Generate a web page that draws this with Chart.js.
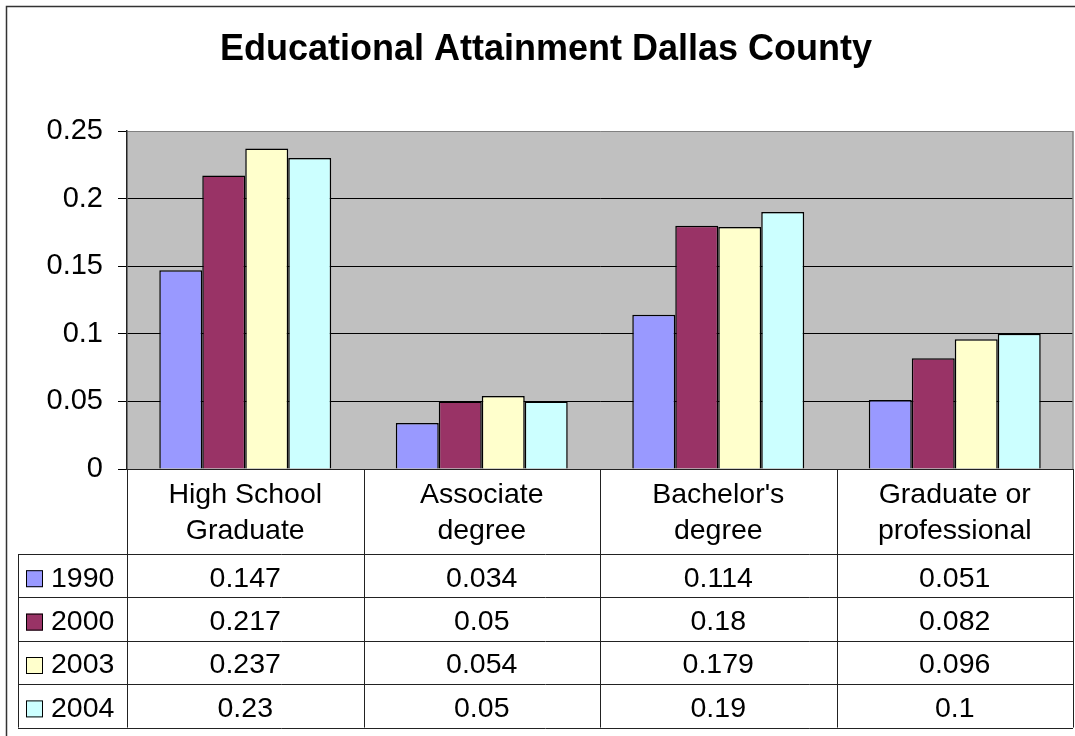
<!DOCTYPE html>
<html>
<head>
<meta charset="utf-8">
<script src="https://cdn.jsdelivr.net/npm/chart.js@4/dist/chart.umd.min.js"></script>
<style>
  html, body { margin: 0; padding: 0; background: #fff; }
  #wrap { width: 1075px; height: 736px; position: relative; }
</style>
</head>
<body>
<div id="wrap"><canvas id="chart"></canvas></div>
<script>
var categories = [["High School", "Graduate"], ["Associate", "degree"], ["Bachelor's", "degree"], ["Graduate or", "professional"]];
var years = ["1990", "2000", "2003", "2004"];
var v1990 = [0.147, 0.034, 0.114, 0.051];
var v2000 = [0.217, 0.05, 0.18, 0.082];
var v2003 = [0.237, 0.054, 0.179, 0.096];
var v2004 = [0.23, 0.05, 0.19, 0.1];
var yTicks = [0, 0.05, 0.1, 0.15, 0.2, 0.25];

var colors = ["#9999FF", "#993366", "#FFFFCC", "#CCFFFF"];
var FONT = "'Liberation Sans', Arial, sans-serif";

Chart.defaults.color = "#000";
Chart.defaults.font.family = FONT;

// plot background, outer frame, and the data table under the axis
var tablePlugin = {
  id: "dataTable",
  beforeDraw: function(chart) {
    var c = chart.ctx;
    var a = chart.chartArea;
    c.save();
    c.fillStyle = "#fff";
    c.fillRect(0, 0, chart.width, chart.height);
    c.strokeStyle = "#333";
    c.lineWidth = 1.5;
    c.strokeRect(6.5, 6.5, chart.width + 20, chart.height + 20);
    c.fillStyle = "#C0C0C0";
    c.fillRect(a.left, a.top, a.right - a.left, a.bottom - a.top);
    c.restore();
  },
  afterDraw: function(chart) {
    var c = chart.ctx;
    var a = chart.chartArea;
    var data = chart.data.datasets;
    var cw = (a.right - a.left) / categories.length;
    var top = Math.round(a.bottom);
    var headH = 85;
    var rowH = 43.4;
    var legLeft = 18;
    var bottom = top + headH + rowH * data.length;

    c.save();
    // right border of the plot
    c.strokeStyle = "#808080";
    c.lineWidth = 1.5;
    c.beginPath();
    c.moveTo(a.right, a.top);
    c.lineTo(a.right, a.bottom);
    c.stroke();

    c.strokeStyle = "#222";
    c.lineWidth = 1;
    c.beginPath();
    // vertical lines
    for (var i = 0; i <= categories.length; i++) {
      var xx = Math.round(a.left + i * cw) + 0.5;
      c.moveTo(xx, top);
      c.lineTo(xx, bottom);
    }
    c.moveTo(legLeft + 0.5, top + headH);
    c.lineTo(legLeft + 0.5, bottom);
    // horizontal lines
    c.moveTo(a.left, top + 0.5);
    c.lineTo(a.right, top + 0.5);
    for (var r = 0; r <= data.length; r++) {
      var yy = Math.round(top + headH + r * rowH) + 0.5;
      c.moveTo(legLeft, yy);
      c.lineTo(a.right, yy);
    }
    c.stroke();

    c.font = "28.5px " + FONT;
    c.fillStyle = "#000";
    c.textAlign = "center";
    c.textBaseline = "middle";
    // header: category names
    for (var k = 0; k < categories.length; k++) {
      var cx = a.left + (k + 0.5) * cw;
      var lines = categories[k];
      for (var l = 0; l < lines.length; l++) {
        c.fillText(lines[l], cx, top + 26 + l * 36);
      }
    }
    // series rows
    for (var s = 0; s < data.length; s++) {
      var cy = top + headH + (s + 0.5) * rowH + 3;
      c.fillStyle = data[s].backgroundColor;
      c.fillRect(26, cy - 8.5, 17, 17);
      c.strokeStyle = "#000";
      c.strokeRect(26.5, cy - 8, 16, 16);
      c.fillStyle = "#000";
      c.textAlign = "left";
      c.fillText(data[s].label, 51, cy);
      c.textAlign = "center";
      for (var k2 = 0; k2 < categories.length; k2++) {
        c.fillText(String(data[s].data[k2]), a.left + (k2 + 0.5) * cw, cy);
      }
    }
    c.restore();
  }
};

var ctx = document.getElementById("chart");
var chart = new Chart(ctx, {
  type: "bar",
  data: {
    labels: categories,
    datasets: [
      { label: years[0], data: v1990, backgroundColor: colors[0] },
      { label: years[1], data: v2000, backgroundColor: colors[1] },
      { label: years[2], data: v2003, backgroundColor: colors[2] },
      { label: years[3], data: v2004, backgroundColor: colors[3] }
    ]
  },
  options: {
    responsive: true,
    maintainAspectRatio: false,
    animation: false,
    layout: { padding: { top: 0, left: 19, right: 2, bottom: 267 } },
    datasets: {
      bar: {
        borderColor: "#000",
        borderWidth: 1.5,
        categoryPercentage: 0.727,
        barPercentage: 1.0
      }
    },
    plugins: {
      legend: { display: false },
      tooltip: { enabled: false },
      title: {
        display: true,
        text: "Educational Attainment Dallas County",
        color: "#000",
        font: { size: 36, weight: "bold", family: FONT },
        padding: { top: 28.4, bottom: 59.4 }
      }
    },
    scales: {
      x: { display: false },
      y: {
        min: 0,
        max: 0.25,
        afterFit: function(scale) { scale.width = 108; },
        afterBuildTicks: function(scale) {
          scale.ticks = yTicks.map(function(v) { return { value: v }; });
        },
        ticks: {
          padding: 15,
          font: { size: 29, family: FONT },
          color: "#000",
          callback: function(v) { return String(v); }
        },
        grid: {
          color: function(c) { return c.tick && c.tick.value === 0.25 ? "#808080" : "#000"; },
          tickColor: "#000",
          tickLength: 9,
          lineWidth: 1
        },
        border: { display: true, color: "#222", width: 1.5 }
      }
    }
  },
  plugins: [tablePlugin]
});
</script>
</body>
</html>
